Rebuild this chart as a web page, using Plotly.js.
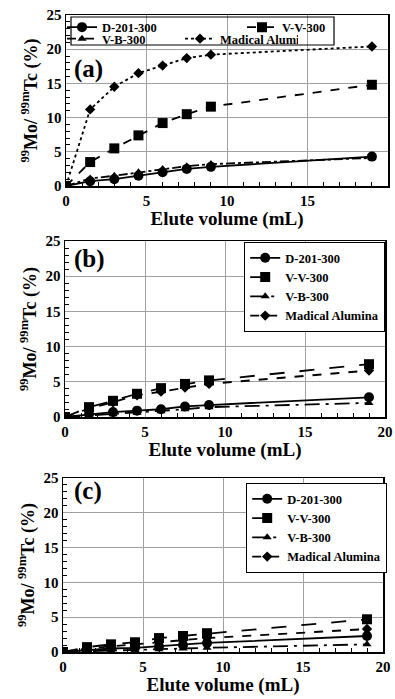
<!DOCTYPE html>
<html><head><meta charset="utf-8">
<script src="https://cdn.plot.ly/plotly-3.0.1.min.js"></script>
<style>html,body{margin:0;padding:0;background:#fff}#chart{width:395px;height:699px}</style>
</head><body><div id="chart"></div>
<script>
const elute = [0, 1.5, 3, 4.5, 6, 7.5, 9, 19];
const seriesNames = ["D-201-300", "V-V-300", "V-B-300", "Madical Alumina"];
const panelLabels = ["(a)", "(b)", "(c)"];
// Panel (a)
const a_D201 = [0, 0.7, 1.0, 1.5, 2.0, 2.5, 2.8, 4.3];
const a_VV = [0, 3.5, 5.5, 7.4, 9.2, 10.5, 11.6, 14.8];
const a_VB = [0, 1.1, 1.5, 2.0, 2.5, 2.9, 3.2, 4.1];
const a_MA = [0, 11.2, 14.5, 16.5, 17.6, 18.7, 19.2, 20.4];
// Panel (b)
const b_D201 = [0, 0.4, 0.7, 0.9, 1.1, 1.5, 1.7, 2.8];
const b_VV = [0, 1.4, 2.3, 3.3, 4.1, 4.7, 5.2, 7.5];
const b_VB = [0, 0.2, 0.4, 0.6, 0.8, 1.1, 1.4, 2.0];
const b_MA = [0, 1.2, 2.1, 3.1, 3.6, 4.2, 4.7, 6.6];
// Panel (c)
const c_D201 = [0, 0.3, 0.5, 0.6, 0.8, 1.0, 1.3, 2.3];
const c_VV = [0, 0.7, 1.1, 1.4, 2.0, 2.3, 2.7, 4.7];
const c_VB = [0, 0.1, 0.2, 0.3, 0.4, 0.5, 0.6, 1.1];
const c_MA = [0, 0.5, 0.8, 1.1, 1.4, 1.7, 2.0, 3.3];

const panels = [
  {vals: [a_D201, a_VV, a_VB, a_MA], dashes: ["solid", "dash", "dashdot", "dot"], xa: "x", ya: "y", lg: ["legend", "legend", "legend4", "legend4"]},
  {vals: [b_D201, b_VV, b_VB, b_MA], dashes: ["solid", "longdash", "longdashdot", "dash"], xa: "x2", ya: "y2", lg: ["legend2", "legend2", "legend2", "legend2"]},
  {vals: [c_D201, c_VV, c_VB, c_MA], dashes: ["solid", "longdash", "longdashdot", "dash"], xa: "x3", ya: "y3", lg: ["legend3", "legend3", "legend3", "legend3"]}
];
const symbols = ["circle", "square", "triangle-up", "diamond"];
const msizes = [10, 10, 8, 8];

const FONT = "Liberation Serif, Times New Roman, serif";
const data = [];
panels.forEach(p => {
  p.vals.forEach((v, i) => {
    data.push({
      x: elute, y: v, type: "scatter", mode: "lines+markers",
      name: seriesNames[i], xaxis: p.xa, yaxis: p.ya, legend: p.lg[i],
      line: {color: "black", width: 1.8, dash: p.dashes[i]},
      marker: {symbol: symbols[i], size: msizes[i], color: "black"}
    });
  });
});

function xax(dom, anchor) {
  return {
    domain: dom, anchor: anchor, range: [0, 20], tick0: 0, dtick: 5,
    automargin: false,
    showgrid: true, gridcolor: "#a0a0a0", gridwidth: 1,
    showline: true, linecolor: "black", linewidth: 1.5, mirror: true,
    ticks: "", zeroline: false,
    minor: {dtick: 1, ticks: "inside", ticklen: 4, tickcolor: "black", showgrid: false},
    tickfont: {family: FONT, size: 15, weight: "bold", color: "black"},
    title: {text: "Elute volume (mL)", font: {family: FONT, size: 19, weight: "bold", color: "black"}, standoff: 1}
  };
}
function yax(dom, anchor) {
  return {
    domain: dom, anchor: anchor, range: [0, 25], tick0: 0, dtick: 5,
    automargin: false,
    showgrid: true, gridcolor: "#a0a0a0", gridwidth: 1,
    showline: true, linecolor: "black", linewidth: 1.5, mirror: true,
    ticks: "", zeroline: false,
    minor: {dtick: 1, ticks: "inside", ticklen: 4, tickcolor: "black", showgrid: false},
    tickfont: {family: FONT, size: 15, weight: "bold", color: "black"},
    title: {text: "<sup>99</sup>Mo/ <sup>99m</sup>Tc (%)", font: {family: FONT, size: 18, weight: "bold", color: "black"}, standoff: 4}
  };
}
const legFont = {family: FONT, size: 12.5, weight: "bold", color: "black"};
const rowLeg = (yc, ew) => ({x: 62/395, y: 1 - yc/699, xanchor: "left", yanchor: "middle", orientation: "h",
    entrywidth: ew, tracegroupgap: 0, itemwidth: 30, bgcolor: "rgba(0,0,0,0)", borderwidth: 0,
    font: legFont});
const layout = {
  width: 395, height: 699,
  margin: {l: 0, r: 0, t: 0, b: 0, autoexpand: false},
  paper_bgcolor: "white", plot_bgcolor: "white",
  xaxis: xax([66/395, 388/395], "y"),
  yaxis: yax([1 - 186/699, 1 - 15/699], "x"),
  xaxis2: xax([65/395, 385/395], "y2"),
  yaxis2: yax([1 - 417/699, 1 - 241/699], "x2"),
  xaxis3: xax([63/395, 383/395], "y3"),
  yaxis3: yax([1 - 652/699, 1 - 478/699], "x3"),
  legend: rowLeg(27.5, 135),
  legend4: rowLeg(39, 73),
  legend2: {x: 244/395, y: 1 - 242/699, xanchor: "left", yanchor: "top",
    bgcolor: "white", bordercolor: "black", borderwidth: 1.2, font: legFont, itemwidth: 30},
  legend3: {x: 246/395, y: 1 - 483/699, xanchor: "left", yanchor: "top",
    bgcolor: "white", bordercolor: "black", borderwidth: 1.2, font: legFont, itemwidth: 30},
  shapes: [{type: "rect", xref: "paper", yref: "paper", layer: "above",
    x0: 71/395, x1: 334/395, y0: 1 - 45/699, y1: 1 - 17/699,
    fillcolor: "rgba(0,0,0,0)", line: {color: "black", width: 1.2}}],
  annotations: panelLabels.map((t, i) => ({
    text: t, xref: "paper", yref: "paper", showarrow: false,
    x: 72/395, y: 1 - [69, 259, 491][i]/699, xanchor: "left", yanchor: "middle",
    font: {family: FONT, size: 25, weight: "bold", color: "black"}
  }))
};
Plotly.newPlot("chart", data, layout, {displayModeBar: false, staticPlot: true});
</script>
</body></html>
